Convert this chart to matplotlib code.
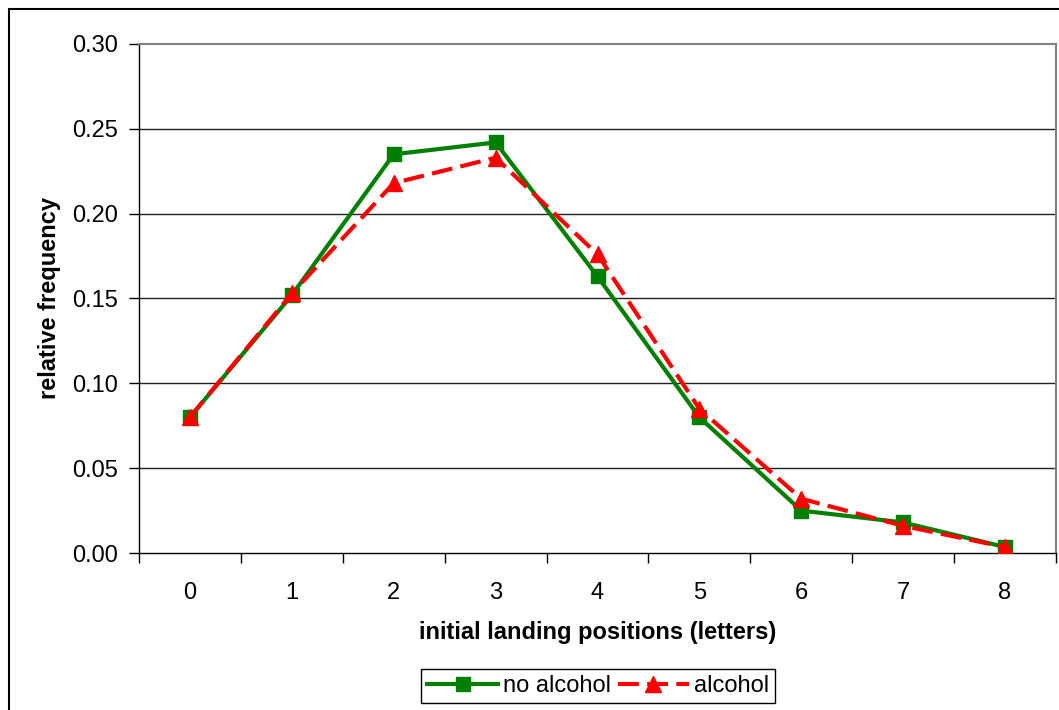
import matplotlib
matplotlib.use("Agg")
import matplotlib.pyplot as plt
from matplotlib.patches import Rectangle

plt.rcParams['font.family'] = ['Liberation Sans', 'DejaVu Sans']

positions = [0, 1, 2, 3, 4, 5, 6, 7, 8]
no_alcohol = [0.080, 0.152, 0.235, 0.242, 0.163, 0.080, 0.025, 0.018, 0.0035]
alcohol = [0.080, 0.153, 0.218, 0.233, 0.176, 0.085, 0.032, 0.016, 0.0035]
y_ticks = [0.00, 0.05, 0.10, 0.15, 0.20, 0.25, 0.30]

fig = plt.figure(figsize=(10.59, 7.10), dpi=100)
ax = fig.add_axes([139 / 1059, 157 / 710, 917 / 1059, 509 / 710])

# outer chart frame
fig.patches.append(Rectangle((9 / 1059, -0.01), 1.05, (701 / 710) + 0.01,
                             transform=fig.transFigure, fill=False,
                             edgecolor='black', linewidth=1.5, zorder=0))

for y in y_ticks[1:-1]:
    ax.axhline(y, color='#202020', linewidth=1.0, zorder=1)

ax.plot(positions, no_alcohol, color='#008000', linewidth=3, marker='s',
        markersize=10, label='no alcohol', zorder=3)
ax.plot(positions, alcohol, color='#ff0000', linewidth=3, marker='^',
        markersize=11, dashes=(5, 2), label='alcohol', zorder=4)

ax.set_xlim(-0.5, 8.5)
ax.set_ylim(0, 0.30)
ax.set_yticks(y_ticks)
ax.set_yticklabels([f"{v:.2f}" for v in y_ticks], fontsize=17)
ax.set_xticks([p - 0.5 for p in positions] + [8.5])
ax.set_xticklabels([])
ax.set_xticks(positions, minor=True)
ax.set_xticklabels([str(p) for p in positions], minor=True, fontsize=17)
ax.tick_params(axis='x', which='minor', length=0, pad=21)
ax.tick_params(axis='x', which='major', length=7, width=1, direction='out', color='black')
ax.tick_params(axis='y', length=7, width=1, direction='out', pad=8)

for side in ['top', 'right']:
    ax.spines[side].set_color('#808080')
    ax.spines[side].set_linewidth(1.5)
for side in ['left', 'bottom']:
    ax.spines[side].set_color('black')
    ax.spines[side].set_linewidth(1.0)

ax.set_xlabel('initial landing positions (letters)', fontsize=17, fontweight='bold', labelpad=12)
ax.set_ylabel('relative frequency', fontsize=17, fontweight='bold', labelpad=8)

leg = fig.legend(loc='center', bbox_to_anchor=(598 / 1059, 24 / 710), ncol=2,
                 fontsize=17, frameon=True, fancybox=False, framealpha=1,
                 edgecolor='black', handlelength=3.0, columnspacing=0.3,
                 handletextpad=0.2, borderpad=0.25, borderaxespad=0.0)
leg.get_frame().set_linewidth(1.0)

fig.savefig('out.png', dpi=100)
